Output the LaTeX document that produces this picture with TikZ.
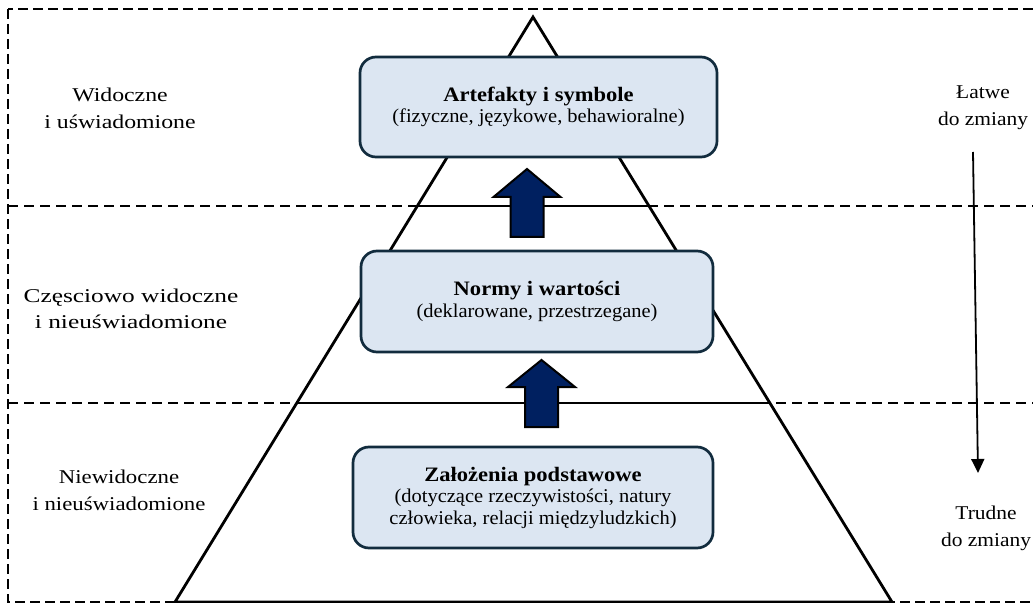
\documentclass[tikz,border=0pt]{standalone}
\usepackage{fontspec}
\setmainfont[FakeStretch=1.1]{Liberation Serif}
\newfontfamily\notefont[FakeStretch=1.05]{Liberation Serif}
\newfontfamily\leveltop[FakeStretch=1.22]{Liberation Serif}
\newfontfamily\levelmid[FakeStretch=1.3]{Liberation Serif}
\newfontfamily\levelbot[FakeStretch=1.17]{Liberation Serif}
\usetikzlibrary{calc,arrows.meta}
\definecolor{boxfill}{RGB}{220,230,242}
\definecolor{boxline}{RGB}{18,44,62}
\definecolor{navyfill}{RGB}{0,32,96}

% upward block arrow: #1 centre x, #2 bottom y, #3 head base y, #4 tip y
\newcommand{\UpBlock}[4]{%
  \draw[blockarrow] (#1-16.5,#2) -- (#1-16.5,#3) -- (#1-33.5,#3) -- (#1,#4)
    -- (#1+33.5,#3) -- (#1+16.5,#3) -- (#1+16.5,#2) -- cycle;}

\begin{document}
\begin{tikzpicture}[x=1bp,y=-1bp,
  layerbox/.style={draw=boxline, fill=boxfill, line width=2.7bp,
    rounded corners=16bp, align=center, inner sep=0pt,
    font=\notefont\fontsize{19.5bp}{21.5bp}\selectfont},
  sidelabel/.style={align=center, inner sep=0pt,
    font=\fontsize{19.5bp}{27bp}\selectfont},
  border/.style={line width=1.1bp, dash pattern=on 10bp off 5bp},
  levelline/.style={line width=2.4bp, dash pattern=on 10bp off 6bp},
  pyramid/.style={line width=2.8bp, line join=miter},
  blockarrow/.style={draw=black, fill=navyfill, line width=2bp, line join=miter},
  trend/.style={line width=1.8bp, -{Triangle[width=13bp,length=14bp]}}
]
\useasboundingbox (0,0) rectangle (1033,603);
\clip (0,0) rectangle (1033,603);
\fill[white] (0,0) rectangle (1033,603);

% outer frame and level separators
\draw[border] (8,9) rectangle (1060,602);
\draw[levelline] (8,206) -- (1060,206);
\draw[levelline] (8,403) -- (1060,403);

% pyramid
\coordinate (apex) at (533,17);
\coordinate (bl) at (175,602);
\coordinate (br) at (892,602);
\draw[pyramid] (apex) -- (bl) -- (br) -- cycle;
\draw[line width=2.2bp] ($(apex)!0.323!(bl)$) -- ($(apex)!0.323!(br)$);
\draw[line width=2.2bp] ($(apex)!0.660!(bl)$) -- ($(apex)!0.660!(br)$);

% layers
\node[layerbox, minimum width=357bp, minimum height=100bp] (artefacts) at (538.5,107)
  {{\rmfamily\fontsize{20.5bp}{21.5bp}\selectfont\bfseries Artefakty i symbole}\\(fizyczne, językowe, behawioralne)};
\node[layerbox, minimum width=352bp, minimum height=101bp] (norms) at (537,301.5)
  {{\rmfamily\fontsize{20.5bp}{21.5bp}\selectfont\bfseries Normy i wartości}\\(deklarowane, przestrzegane)};
\node[layerbox, minimum width=360bp, minimum height=101bp] (assumptions) at (533,497.5)
  {{\rmfamily\fontsize{20.5bp}{21.5bp}\selectfont\bfseries Założenia podstawowe}\\(dotyczące rzeczywistości, natury\\człowieka, relacji międzyludzkich)};

% block arrows between layers
\UpBlock{527}{237}{197}{169}
\UpBlock{541.5}{427}{387}{360}

% level descriptions
\node[sidelabel, font=\leveltop\fontsize{19.5bp}{27bp}\selectfont] (visible) at (120,108) {Widoczne\\i uświadomione};
\node[sidelabel, font=\levelmid\fontsize{19.5bp}{26bp}\selectfont] (partly) at (131,309) {Częsciowo widoczne\\i nieuświadomione};
\node[sidelabel, font=\levelbot\fontsize{19.5bp}{27bp}\selectfont] (hidden) at (119,490) {Niewidoczne\\i nieuświadomione};

% ease of change
\node[sidelabel] (easy) at (983,108) {Łatwe\\do zmiany};
\node[sidelabel] (hard) at (986,528) {Trudne\\do zmiany};
\coordinate (trendtop) at (973,152);
\coordinate (trendend) at (978,473);
\draw[trend] (trendtop) -- (trendend);
\end{tikzpicture}
\end{document}
